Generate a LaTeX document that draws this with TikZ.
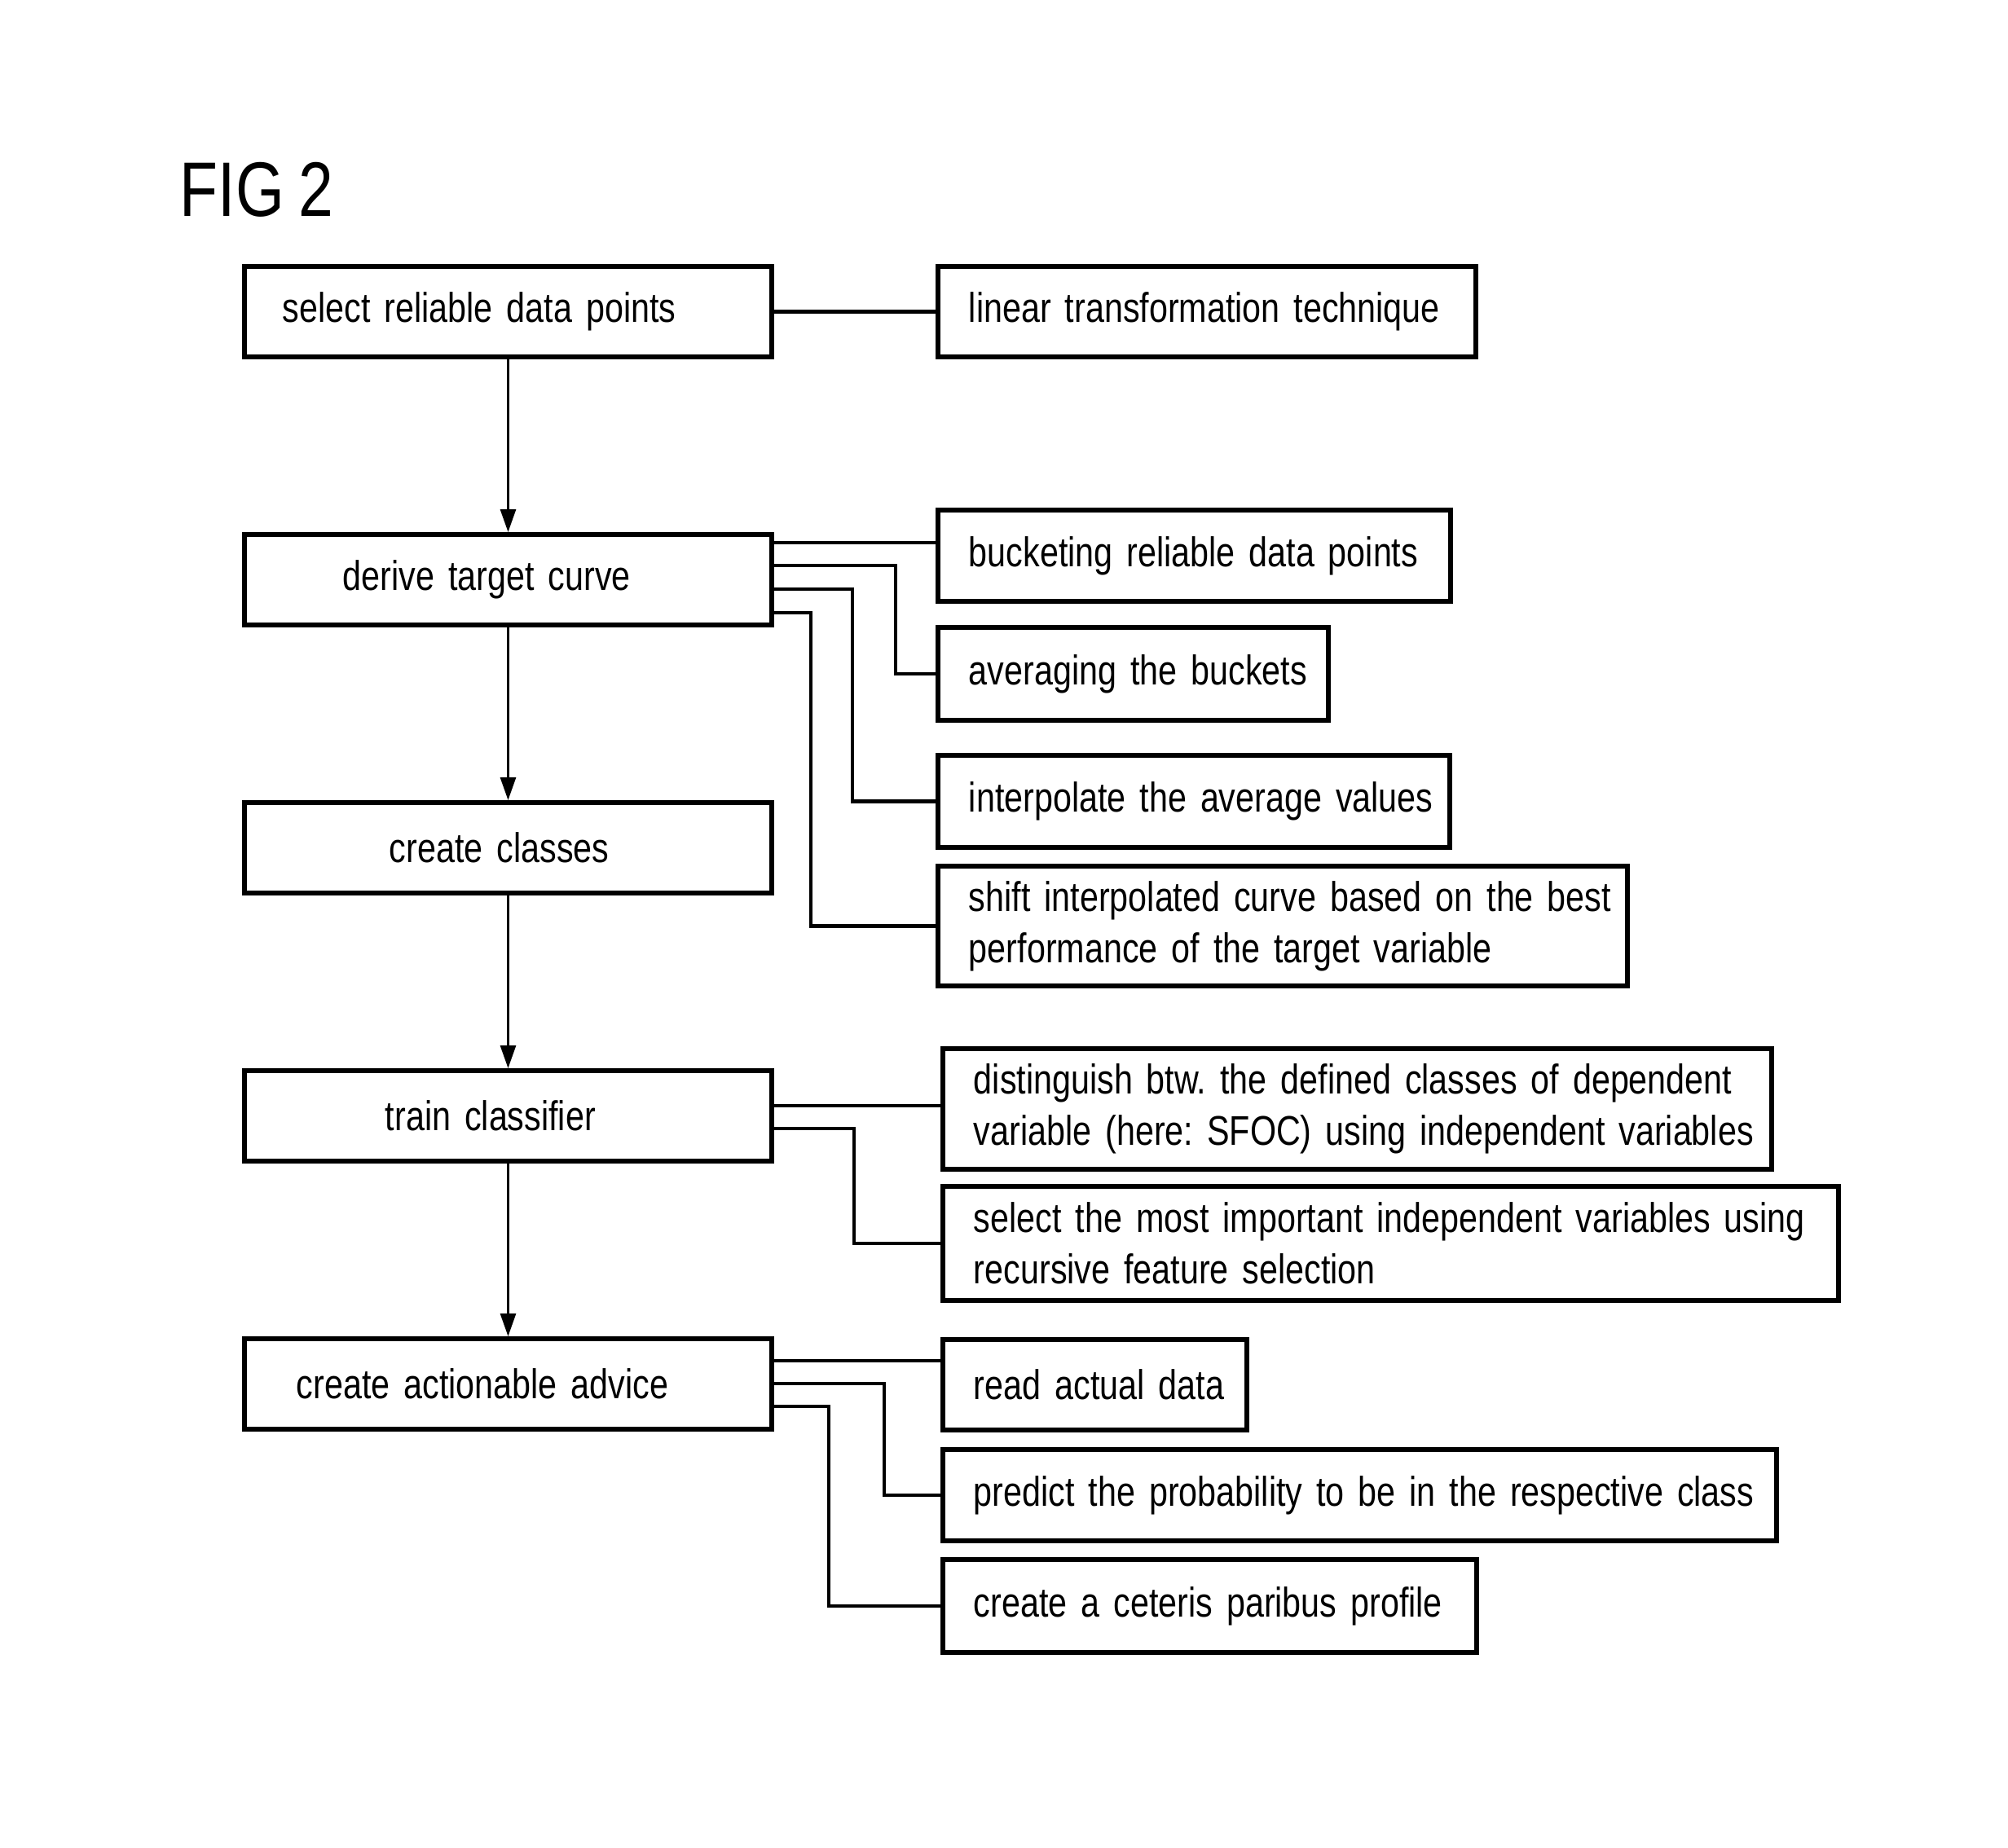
\documentclass[tikz,border=0pt]{standalone}
\usepackage{fontspec}
\setmainfont{Liberation Sans}[FakeStretch=0.81, WordSpace=0.85]
\usetikzlibrary{arrows.meta,calc}
\hbadness=10000 \hfuzz=100pt
\frenchspacing
\begin{document}
\begin{tikzpicture}[
  font=\fontsize{14.5}{18}\selectfont\frenchspacing,
  lbox/.style={draw, line width=1.7pt, anchor=north west, minimum width=6.47cm,
    minimum height=1.11cm, text width=6.47cm, inner xsep=0pt, align=left},
  rbox/.style={draw, line width=1.7pt, anchor=north west, inner xsep=0.38cm, align=left},
  conn/.style={line width=1.15pt, line join=miter},
  arr/.style={line width=0.8pt, -{Triangle[length=0.28cm, width=0.19cm]}}
]
\useasboundingbox (0,0) rectangle (24.64,-22.68);

\node[anchor=base west, font=\fontsize{27}{31}\selectfont, inner sep=0pt] (fig) at (2.20,-2.65) {FIG 2};

% left column
\node[lbox] (b1) at (2.97,-3.24) {\hspace*{0.47cm}\mbox{select reliable data points}};
\node[lbox] (b2) at (2.97,-6.53) {\hspace*{1.21cm}\mbox{derive target curve}};
\node[lbox] (b3) at (2.97,-9.82) {\hspace*{1.78cm}\mbox{create classes}};
\node[lbox] (b4) at (2.97,-13.11) {\hspace*{1.73cm}\mbox{train classifier}};
\node[lbox] (b5) at (2.97,-16.40) {\hspace*{0.64cm}\mbox{create actionable advice}};

% right column
\node[rbox, text width=5.84cm, minimum height=1.11cm] (r1) at (11.48,-3.24) {\mbox{linear transformation technique}};
\node[rbox, text width=5.53cm, minimum height=1.12cm] (r2) at (11.48,-6.23) {\mbox{bucketing reliable data points}};
\node[rbox, text width=4.03cm, minimum height=1.14cm] (r3) at (11.48,-7.67) {\mbox{averaging the buckets}};
\node[rbox, text width=5.52cm, minimum height=1.13cm] (r4) at (11.48,-9.24) {\mbox{interpolate the average values}};
\node[rbox, text width=7.70cm, minimum height=1.47cm] (r5) at (11.48,-10.60) {\mbox{shift interpolated curve based on the best}\\\mbox{performance of the target variable}};
\node[rbox, text width=9.41cm, minimum height=1.48cm] (r6) at (11.54,-12.84) {\mbox{distinguish btw. the defined classes of dependent}\\\mbox{variable (here: SFOC) using independent variables}};
\node[rbox, text width=10.23cm, minimum height=1.40cm] (r7) at (11.54,-14.53) {\mbox{select the most important independent variables using}\\\mbox{recursive feature selection}};
\node[rbox, text width=2.97cm, minimum height=1.11cm] (r8) at (11.54,-16.41) {\mbox{read actual data}};
\node[rbox, text width=9.47cm, minimum height=1.12cm] (r9) at (11.54,-17.76) {\mbox{predict the probability to be in the respective class}};
\node[rbox, text width=5.79cm, minimum height=1.14cm] (r10) at (11.54,-19.11) {\mbox{create a ceteris paribus profile}};

% arrows
\draw[arr] (b1.south) -- (b2.north);
\draw[arr] (b2.south) -- (b3.north);
\draw[arr] (b3.south) -- (b4.north);
\draw[arr] (b4.south) -- (b5.north);

% connectors
\draw[conn] (b1.east) -- (r1.west);

\coordinate (c2a) at ($(b2.north east)+(0,-0.13)$);
\coordinate (c2b) at ($(b2.north east)+(0,-0.41)$);
\coordinate (c2c) at ($(b2.north east)+(0,-0.70)$);
\coordinate (c2d) at ($(b2.north east)+(0,-0.99)$);
\draw[conn] (c2a) -- (c2a -| r2.west);
\draw[conn] (c2b) -| ($(r3.west)+(-0.49,0)$) -- (r3.west);
\draw[conn] (c2c) -| ($(r4.west)+(-1.02,0)$) -- (r4.west);
\draw[conn] (c2d) -| ($(r5.west)+(-1.53,0)$) -- (r5.west);

\coordinate (c4a) at ($(b4.north east)+(0,-0.46)$);
\coordinate (c4b) at ($(b4.north east)+(0,-0.74)$);
\draw[conn] (c4a) -- (c4a -| r6.west);
\draw[conn] (c4b) -| ($(r7.west)+(-1.06,0)$) -- (r7.west);

\coordinate (c5a) at ($(b5.north east)+(0,-0.30)$);
\coordinate (c5b) at ($(b5.north east)+(0,-0.58)$);
\coordinate (c5c) at ($(b5.north east)+(0,-0.86)$);
\draw[conn] (c5a) -- (c5a -| r8.west);
\draw[conn] (c5b) -| ($(r9.west)+(-0.69,0)$) -- (r9.west);
\draw[conn] (c5c) -| ($(r10.west)+(-1.37,0)$) -- (r10.west);
\end{tikzpicture}
\end{document}
